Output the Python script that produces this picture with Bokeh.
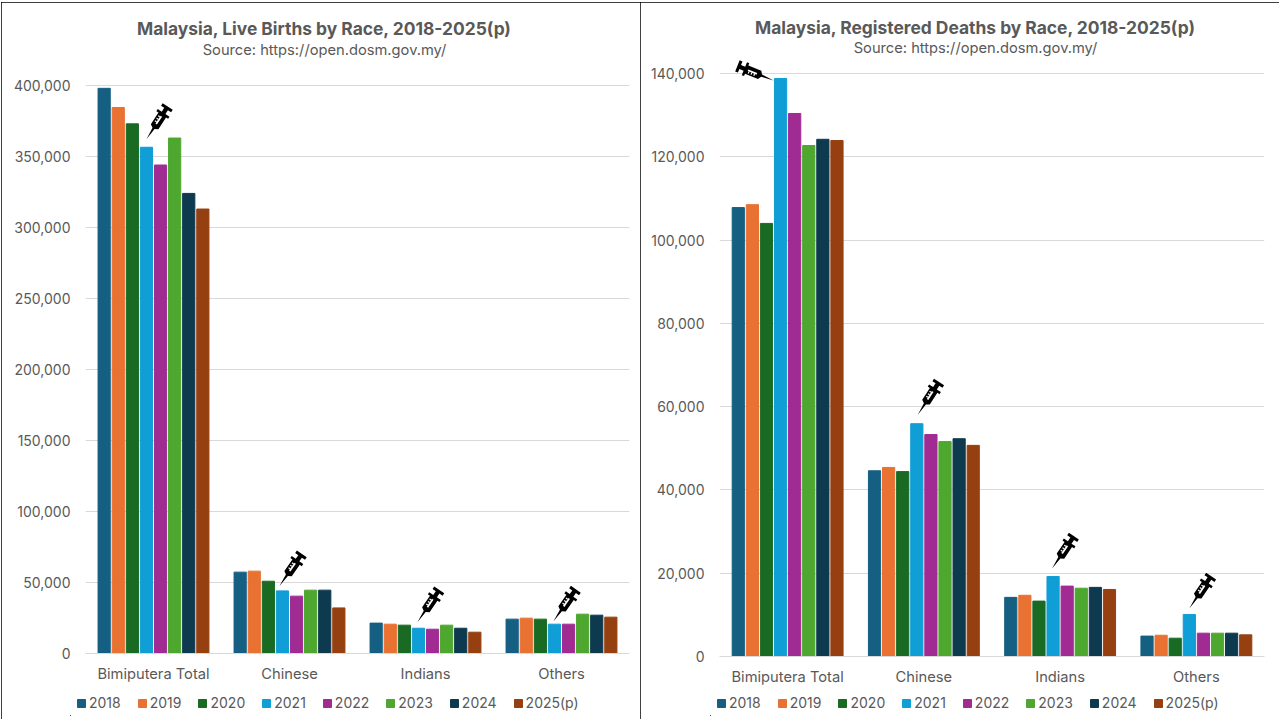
import math
from bokeh.plotting import figure
from bokeh.models import FactorRange, Range1d, Label, Legend, LegendItem, NumeralTickFormatter, FixedTicker
from bokeh.transform import dodge
from bokeh.embed import file_html
from bokeh.resources import INLINE

races = ["Bimiputera Total", "Chinese", "Indians", "Others"]
years = ["2018", "2019", "2020", "2021", "2022", "2023", "2024", "2025(p)"]
colors = ["#156082", "#E97132", "#196B24", "#0F9ED5", "#A02B93", "#4EA72E", "#0E3A4F", "#964011"]

births_2018 = [398000, 57300, 21400, 24200]
births_2019 = [384500, 58000, 20650, 24900]
births_2020 = [373000, 50900, 19950, 24200]
births_2021 = [356500, 44100, 17800, 20650]
births_2022 = [344000, 40400, 17100, 20650]
births_2023 = [363000, 44600, 19950, 27700]
births_2024 = [324000, 44600, 17800, 27000]
births_2025 = [313000, 32100, 15000, 25600]
births = [births_2018, births_2019, births_2020, births_2021, births_2022, births_2023, births_2024, births_2025]

deaths_2018 = [107800, 44600, 14200, 4900]
deaths_2019 = [108500, 45400, 14700, 5100]
deaths_2020 = [104000, 44400, 13300, 4400]
deaths_2021 = [138800, 55900, 19200, 10100]
deaths_2022 = [130400, 53300, 16900, 5600]
deaths_2023 = [122700, 51600, 16400, 5600]
deaths_2024 = [124200, 52300, 16600, 5600]
deaths_2025 = [123900, 50700, 16100, 5200]
deaths = [deaths_2018, deaths_2019, deaths_2020, deaths_2021, deaths_2022, deaths_2023, deaths_2024, deaths_2025]

births_ticks = [0, 50000, 100000, 150000, 200000, 250000, 300000, 350000, 400000]
deaths_ticks = [0, 20000, 40000, 60000, 80000, 100000, 120000, 140000]

FONT = "Inter"
GREY = "#595959"

# syringe outline, in pixels: u runs from the tip along the needle, v across it
BODY = [(0, 0), (13, 1.2), (15, 4.5), (29, 4.5), (29, 7), (31.5, 7), (31.5, 2.2), (36, 2.2),
        (36, 6), (39, 6), (39, -6), (36, -6), (36, -2.2), (31.5, -2.2), (31.5, -7),
        (29, -7), (29, -4.5), (15, -4.5), (13, -1.2)]
MARKS = [(18, -0.8, 27.5, 1.0), (19.5, 1.0, 20.7, 3), (22.5, 1.0, 23.7, 3), (25.5, 1.0, 26.7, 3)]


def panel(values, ticks, y_end, pos_x, width, height, left, right, top, bottom, syringes):
    p = figure(x_range=FactorRange(*races), y_range=Range1d(0, y_end), width=width, height=height,
               output_backend="svg", toolbar_location=None, min_border_left=left, min_border_right=right,
               min_border_top=top, min_border_bottom=bottom, outline_line_color=None,
               background_fill_color="white", border_fill_color="white",
               styles={"position": "absolute", "left": f"{pos_x}px", "top": "2px",
                       "outline": "1.5px solid black", "outline-offset": "-1.5px"})
    frame_w = width - left - right
    frame_h = height - top - bottom
    px_x = frame_w / 4
    px_y = frame_h / y_end
    step = 14.1 / px_x
    for i, (year, col, vals) in enumerate(zip(years, colors, values)):
        off = (i - 3.5) * step
        p.vbar(x=dodge("race", off, range=p.x_range), top="v", width=12.2 / px_x, color=col,
               source={"race": races, "v": vals})

    for k, (dx, dy, ang) in enumerate(syringes):
        x0 = k + 0.5 + (3 - 3.5) * step
        y0 = values[3][k]
        c, s = math.cos(math.radians(ang)), math.sin(math.radians(ang))
        def conv(u, v):
            return (x0 + (dx + u * c - v * s) / px_x, y0 + (dy + u * s + v * c) / px_y)
        pts = [conv(u, v) for u, v in BODY]
        p.patch([a for a, b in pts], [b for a, b in pts], color="black", line_width=0)
        for u1, v1, u2, v2 in MARKS:
            q = [conv(u1, v1), conv(u2, v1), conv(u2, v2), conv(u1, v2)]
            p.patch([a for a, b in q], [b for a, b in q], color="white", line_width=0)

    p.yaxis.ticker = FixedTicker(ticks=ticks)
    p.yaxis.formatter = NumeralTickFormatter(format="0,0")
    p.yaxis.axis_line_color = None
    p.yaxis.major_tick_line_color = None
    p.yaxis.minor_tick_line_color = None
    p.yaxis.major_label_standoff = 9
    p.xaxis.axis_line_color = "#D9D9D9"
    p.xaxis.major_tick_line_color = None
    p.xaxis.minor_tick_line_color = None
    p.xaxis.major_label_standoff = 5
    for ax in (p.xaxis, p.yaxis):
        ax.major_label_text_font = FONT
        ax.major_label_text_font_size = "14px"
        ax.major_label_text_color = GREY
    p.xaxis.major_label_text_font_size = "14.7px"
    p.xgrid.grid_line_color = None
    p.ygrid.grid_line_color = "#D9D9D9"
    return p


def strip(pos_x, pos_y, width, height):
    s = figure(x_range=Range1d(0, width), y_range=Range1d(0, height), width=width, height=height,
               output_backend="svg", toolbar_location=None, min_border=0, outline_line_color=None,
               x_axis_location=None, y_axis_location=None, background_fill_alpha=0, border_fill_alpha=0,
               styles={"position": "absolute", "left": f"{pos_x}px", "top": f"{pos_y}px"})
    s.grid.visible = False
    return s


def titles(pos_x, title, subtitle, center_x, title_y, sub_y):
    s = strip(pos_x, 12, 630, 46)
    s.add_layout(Label(x=center_x - pos_x, y=58 - title_y, text=title, text_font=FONT, text_font_size="17.4px",
                       text_font_style="bold", text_color=GREY, text_align="center", text_baseline="middle"))
    s.add_layout(Label(x=center_x - pos_x, y=58 - sub_y, text=subtitle, text_font=FONT, text_font_size="14.7px",
                       text_color=GREY, text_align="center", text_baseline="middle"))
    return s


def legend(pos_x):
    s = strip(pos_x, 690, 530, 26)
    items = []
    for year, col in zip(years, colors):
        # the legend needs a glyph to copy; this one lies outside the strip's range
        r = s.vbar(x=[-50], top=[1], width=1, color=col)
        items.append(LegendItem(label=year, renderers=[r]))
    s.add_layout(Legend(items=items, orientation="horizontal", location=(6, 5), border_line_color=None,
                        background_fill_alpha=0, glyph_width=10, glyph_height=10, label_standoff=3, spacing=16,
                        padding=0, margin=0, label_text_font=FONT, label_text_font_size="14px",
                        label_text_color=GREY), "center")
    return s


left = panel(births, births_ticks, 417600, 1, 640, 717, 84, 12, 58, 66,
             [(0, 8, 57), (-3, 5, 55), (-1, 6, 56), (-1, 3, 55)])
right = panel(deaths, deaths_ticks, 143600, 640, 639, 717, 79, 15, 56, 63,
              [(-7, -2, 158), (1, 9, 57), (-1, 8, 56), (0, 6, 56)])
left_titles = titles(4, "Malaysia, Live Births by Race, 2018-2025(p)", "Source: https://open.dosm.gov.my/", 324, 28, 49)
right_titles = titles(644, "Malaysia, Registered Deaths by Race, 2018-2025(p)", "Source: https://open.dosm.gov.my/", 975, 27, 47)
left_legend = legend(70)
right_legend = legend(710)

open("out.html", "w").write(file_html((left, right, left_titles, right_titles, left_legend, right_legend), INLINE))
